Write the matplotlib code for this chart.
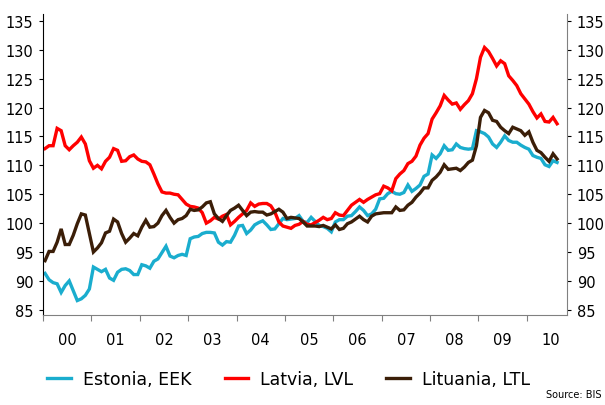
import numpy as np
import matplotlib
matplotlib.use("Agg")
import matplotlib.pyplot as plt

# monthly index values, Jan 2000 - Aug 2010
estonia = [91.3, 90.2, 89.7, 89.5, 88.0, 89.2, 90.0, 88.3, 86.6, 86.9, 87.5, 88.6,
           92.4, 92.0, 91.6, 92.0, 90.5, 90.1, 91.5, 92.0, 92.1, 91.8, 91.1, 91.1,
           92.8, 92.6, 92.2, 93.4, 93.8, 94.9, 96.0, 94.3, 94.0, 94.4, 94.6, 94.4,
           97.3, 97.6, 97.7, 98.2, 98.4, 98.4, 98.3, 96.7, 96.2, 96.8, 96.7, 97.9,
           99.5, 99.6, 98.2, 98.8, 99.7, 100.1, 100.4, 99.7, 98.9, 99.0, 99.9, 100.8,
           100.6, 100.7, 100.8, 101.3, 100.3, 100.1, 101.0, 100.3, 99.6, 99.4, 99.1, 98.5,
           100.2, 100.6, 100.6, 101.2, 101.3, 102.0, 102.8, 102.2, 101.3, 101.6, 102.4, 104.2,
           104.3, 105.1, 105.5, 105.1, 105.0, 105.3, 106.6, 105.5, 106.0, 106.6, 108.1, 108.5,
           111.8, 111.2, 112.0, 113.4, 112.6, 112.7, 113.7, 113.1, 112.9, 112.8, 112.9, 116.0,
           115.8, 115.5, 114.9, 113.7, 113.1, 114.0, 115.1, 114.3, 114.0, 114.0, 113.5, 113.1,
           112.8, 111.7, 111.4, 111.2, 110.1, 109.8, 110.8, 110.5]

latvia = [112.9, 113.4, 113.4, 116.4, 116.0, 113.4, 112.7, 113.4, 114.0, 114.9, 113.7, 110.8,
          109.5, 110.0, 109.4, 110.7, 111.4, 112.9, 112.6, 110.7, 110.8, 111.5, 111.8, 111.1,
          110.7, 110.6, 110.1, 108.5, 106.8, 105.4, 105.2, 105.2, 105.0, 104.9, 104.1, 103.3,
          102.9, 102.8, 102.6, 101.8, 100.0, 100.4, 101.0, 100.7, 101.2, 101.5, 99.7, 100.3,
          101.0, 101.6, 102.2, 103.5, 102.9, 103.3, 103.4, 103.4, 103.0, 101.9, 100.2, 99.5,
          99.3, 99.1, 99.6, 99.8, 100.3, 99.8, 99.7, 100.1, 100.5, 101.0, 100.6, 100.8,
          101.8, 101.4, 101.3, 102.2, 103.1, 103.6, 104.1, 103.6, 104.1, 104.5, 104.9, 105.1,
          106.4, 106.1, 105.6, 107.7, 108.5, 109.1, 110.3, 110.7, 111.6, 113.5, 114.7, 115.5,
          118.0, 119.1, 120.3, 122.1, 121.3, 120.6, 120.8, 119.7, 120.5, 121.2, 122.4, 125.0,
          128.7, 130.4, 129.7, 128.5, 127.2, 128.1, 127.6, 125.5, 124.7, 123.8, 122.4, 121.5,
          120.6, 119.3, 118.2, 118.9, 117.6, 117.5, 118.3, 117.2]

lithuania = [93.5, 95.1, 95.1, 96.7, 99.0, 96.3, 96.3, 97.9, 99.9, 101.6, 101.4, 98.2,
             95.0, 95.7, 96.6, 98.3, 98.6, 100.7, 100.2, 98.2, 96.7, 97.4, 98.2, 97.8,
             99.3, 100.5, 99.3, 99.4, 100.0, 101.3, 102.2, 101.0, 100.0, 100.6, 100.8, 101.3,
             102.4, 102.2, 102.3, 102.8, 103.5, 103.7, 101.6, 100.8, 100.3, 101.3, 102.2, 102.6,
             103.1, 102.2, 101.3, 101.9, 102.0, 101.9, 101.9, 101.4, 101.6, 102.0, 102.4, 101.9,
             100.8, 101.0, 100.9, 100.8, 100.2, 99.5, 99.5, 99.5, 99.4, 99.6, 99.3, 99.0,
             99.7, 98.9, 99.1, 99.9, 100.2, 100.7, 101.2, 100.6, 100.2, 101.2, 101.6, 101.7,
             101.8, 101.8, 101.8, 102.8, 102.2, 102.3, 103.1, 103.6, 104.5, 105.2, 106.1, 106.1,
             107.4, 108.0, 108.8, 110.1, 109.3, 109.4, 109.5, 109.1, 109.7, 110.5, 110.9, 113.4,
             118.3, 119.5, 119.1, 117.8, 117.6, 116.6, 116.0, 115.5, 116.6, 116.3, 116.0, 115.2,
             115.8, 114.0, 112.6, 112.2, 111.4, 110.7, 112.0, 111.1]

years = list(range(2000, 2011))
year_labels = ["00", "01", "02", "03", "04", "05", "06", "07", "08", "09", "10"]
yticks = [85, 90, 95, 100, 105, 110, 115, 120, 125, 130, 135]

# mid-month positions in years
t = 2000 + (np.arange(len(estonia)) + 0.5) / 12

fig = plt.figure(figsize=(6.05, 4.06), dpi=100)
ax = fig.add_axes([0.0711, 0.2217, 0.8661, 0.7414])

ax.plot(t, estonia, color="#1AADCE", lw=2.4, label="Estonia, EEK", solid_joinstyle="miter")
ax.plot(t, latvia, color="#FF0000", lw=2.4, label="Latvia, LVL", solid_joinstyle="miter")
ax.plot(t, lithuania, color="#3B1E08", lw=2.4, label="Lituania, LTL", solid_joinstyle="miter")

ax.set_xlim(2000, 2010.83)
ax.set_ylim(84.1, 136.2)

ax.spines["top"].set_visible(False)
ax.spines["left"].set_color("black")
ax.spines["bottom"].set_color("#808080")
ax.spines["right"].set_color("#808080")

# year ticks on the boundaries, labels in the middle of each year
ax.set_xticks(years)
ax.set_xticklabels([])
ax.set_xticks([y + 0.5 for y in years], minor=True)
ax.set_xticklabels(year_labels, minor=True, fontsize=10.5)
ax.tick_params(axis="x", which="major", direction="out", length=4, color="#808080")
ax.tick_params(axis="x", which="minor", length=0, pad=12)

ax.set_yticks(yticks)
ax.set_yticklabels([str(v) for v in yticks], fontsize=10.5)
ax.tick_params(axis="y", direction="out", length=3, pad=4,
               left=True, right=True, labelleft=True, labelright=True)

fig.legend(loc="center", bbox_to_anchor=(0.477, 0.064), ncol=3, frameon=False,
           fontsize=12.5, handlelength=1.35, handletextpad=0.7, columnspacing=1.9)

fig.text(0.995, 0.015, "Source: BIS", ha="right", va="bottom", fontsize=7)

plt.savefig("out.png", dpi=100)
